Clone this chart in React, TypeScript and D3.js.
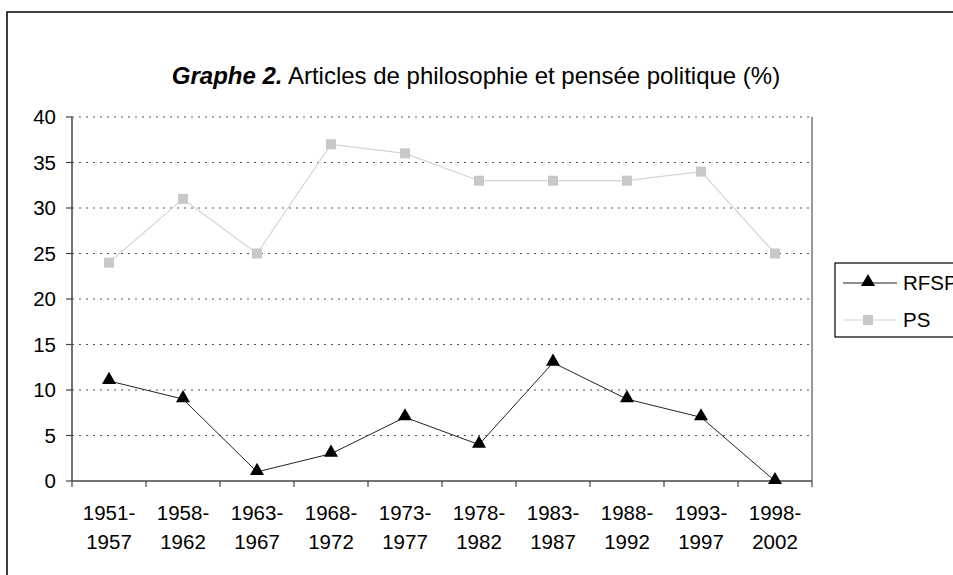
import React from "react";
import * as d3 from "d3";

const categories = ["1951-1957", "1958-1962", "1963-1967", "1968-1972", "1973-1977", "1978-1982", "1983-1987", "1988-1992", "1993-1997", "1998-2002"];
const rfsp = [11, 9, 1, 3, 7, 4, 13, 9, 7, 0];
const ps = [24, 31, 25, 37, 36, 33, 33, 33, 34, 25];
const yTicks = [0, 5, 10, 15, 20, 25, 30, 35, 40];

const W = 953, H = 575;
const L = 72, R = 812, T = 117, B = 481;
const FONT = "'Liberation Sans', Arial, sans-serif";

export default function App() {
  const x = d3.scaleBand<string>().domain(categories).range([L, R]);
  const y = d3.scaleLinear().domain([0, 40]).range([B, T]);
  const cx = (c: string) => (x(c) as number) + x.bandwidth() / 2;
  const line = d3.line<number>().x((_, i) => cx(categories[i])).y((d) => y(d));
  const tri = d3.symbol().type(d3.symbolTriangle).size(85)();
  const boundaries = [...categories.map((c) => x(c) as number), R];

  return (
    <svg width={W} height={H} style={{ position: "absolute", left: 0, top: 0, background: "#fff" }} fontFamily={FONT}>
      <rect x={0} y={0} width={W} height={H} fill="#fff" />
      <rect x={7} y={12} width={1000} height={700} fill="none" stroke="#000" strokeWidth={1.5} />
      <text x={476} y={84} textAnchor="middle" fontSize={24} fill="#000">
        <tspan fontWeight="bold" fontStyle="italic">Graphe 2.</tspan>
        <tspan> Articles de philosophie et pensée politique (%)</tspan>
      </text>
      {yTicks.filter((t) => t > 0).map((t) => (
        <line key={"g" + t} x1={L} x2={R} y1={y(t)} y2={y(t)} stroke="#555" strokeWidth={1.2} strokeDasharray="2,5" />
      ))}
      <line x1={R} x2={R} y1={T} y2={B} stroke="#777" strokeWidth={1.5} />
      <line x1={L} x2={L} y1={T} y2={B} stroke="#444" strokeWidth={1.5} />
      <line x1={L} x2={R} y1={B} y2={B} stroke="#444" strokeWidth={1.5} />
      {yTicks.map((t) => (
        <g key={"y" + t}>
          <line x1={L - 6} x2={L} y1={y(t)} y2={y(t)} stroke="#444" strokeWidth={1.2} />
          <text x={56} y={y(t)} dy="0.36em" textAnchor="end" fontSize={20.5} fill="#000">{t}</text>
        </g>
      ))}
      {boundaries.map((b, i) => (
        <line key={"xt" + i} x1={b} x2={b} y1={B} y2={B + 6} stroke="#444" strokeWidth={1.2} />
      ))}
      {categories.map((c) => {
        const [a, b] = c.split("-");
        return (
          <text key={c} x={cx(c)} textAnchor="middle" fontSize={20.5} fill="#000">
            <tspan x={cx(c)} y={520}>{a + "-"}</tspan>
            <tspan x={cx(c)} y={549}>{b}</tspan>
          </text>
        );
      })}
      <path d={line(ps) || ""} fill="none" stroke="#d4d4d4" strokeWidth={1.2} />
      {ps.map((v, i) => (
        <rect key={"p" + i} x={cx(categories[i]) - 5} y={y(v) - 5} width={10} height={10} fill="#c8c8c8" />
      ))}
      <path d={line(rfsp) || ""} fill="none" stroke="#222" strokeWidth={1} />
      {rfsp.map((v, i) => (
        <path key={"r" + i} d={tri || ""} transform={`translate(${cx(categories[i])},${y(v) - 1})`} fill="#000" />
      ))}
      <rect x={835} y={263} width={200} height={74} fill="#fff" stroke="#000" strokeWidth={1.2} />
      <line x1={843} x2={897} y1={283} y2={283} stroke="#222" strokeWidth={1} />
      <path d={tri || ""} transform="translate(868,282)" fill="#000" />
      <text x={903} y={283} dy="0.36em" fontSize={20.5}>RFSP</text>
      <line x1={843} x2={897} y1={320} y2={320} stroke="#d4d4d4" strokeWidth={1.2} />
      <rect x={863} y={315} width={10} height={10} fill="#c8c8c8" />
      <text x={903} y={320} dy="0.36em" fontSize={20.5}>PS</text>
    </svg>
  );
}
